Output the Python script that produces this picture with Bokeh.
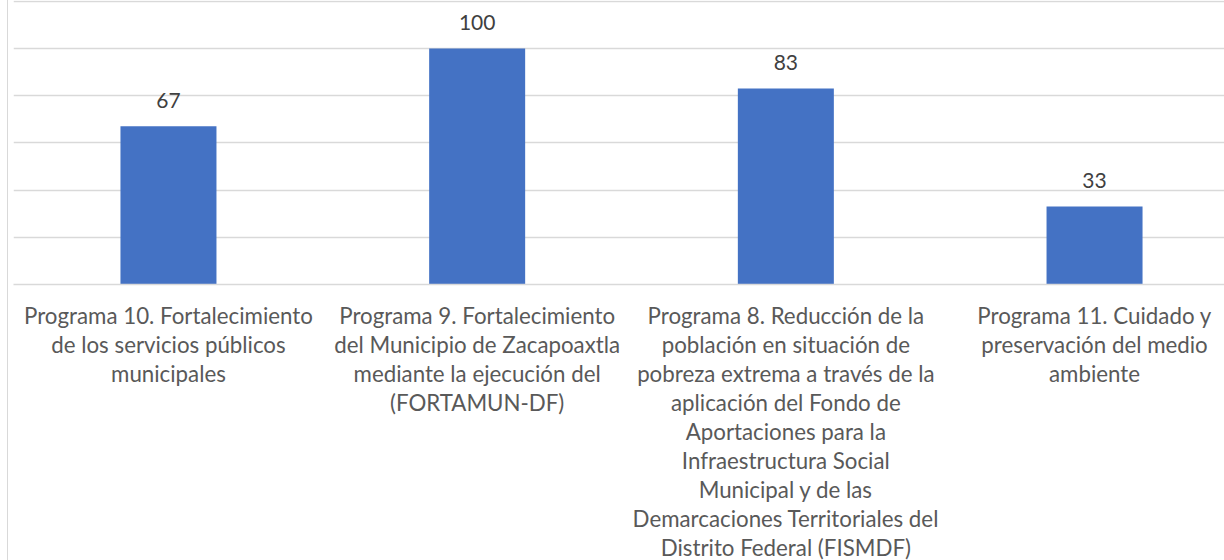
from bokeh.plotting import figure
from bokeh.models import Range1d, FixedTicker, LinearAxis, LabelSet, ColumnDataSource, Grid
from bokeh.core.properties import value
from bokeh.embed import file_html
from bokeh.resources import INLINE

# ---- data ----
categories = [
    "Programa 10. Fortalecimiento\nde los servicios públicos\nmunicipales",
    "Programa 9. Fortalecimiento\ndel Municipio de Zacapoaxtla\nmediante la ejecución del\n(FORTAMUN-DF)",
    "Programa 8. Reducción de la\npoblación en situación de\npobreza extrema a través de la\naplicación del Fondo de\nAportaciones para la\nInfraestructura Social\nMunicipal y de las\nDemarcaciones Territoriales del\nDistrito Federal (FISMDF)",
    "Programa 11. Cuidado y\npreservación del medio\nambiente",
]
values = [67, 100, 83, 33]
value_labels = ["67", "100", "83", "33"]
grid_ticks = [0, 20, 40, 60, 80, 100, 120]

positions = list(range(len(categories)))

FONT = "Lato"

src = ColumnDataSource(dict(x=positions, top=values, lab=value_labels))

p = figure(
    frame_width=1211, frame_height=284,
    x_range=Range1d(-0.502, 3.421), y_range=Range1d(0, 120.3),
    output_backend="svg", toolbar_location=None,
    x_axis_location=None, y_axis_location=None,
    min_border_left=5, min_border_right=0, min_border_top=0, min_border_bottom=10,
    styles={"margin-left": "7px", "border-left": "1px solid #d9d9d9"},
)
# drop default grids
for r in list(p.center):
    if isinstance(r, Grid):
        r.visible = False

p.outline_line_color = None
p.background_fill_color = "white"
p.border_fill_color = "white"

p.vbar(x="x", top="top", width=0.311, bottom=0, source=src,
       fill_color="#4472C4", line_color=None)

xaxis = LinearAxis(ticker=FixedTicker(ticks=positions),
                   major_label_overrides={i: c for i, c in zip(positions, categories)})
xaxis.axis_line_color = "#d9d9d9"
xaxis.axis_line_width = 1.5
xaxis.major_tick_line_color = None
xaxis.minor_tick_line_color = None
xaxis.major_label_text_font = FONT
xaxis.major_label_text_font_size = "22.3px"
xaxis.major_label_text_color = "#595959"
xaxis.major_label_text_line_height = 1.075
xaxis.major_label_standoff = 11
xaxis.major_label_orientation = "horizontal"
p.add_layout(xaxis, "below")

yaxis = LinearAxis(ticker=FixedTicker(ticks=grid_ticks), visible=False)
p.add_layout(yaxis, "left")

g = Grid(dimension=1, ticker=FixedTicker(ticks=grid_ticks),
         grid_line_color="#d9d9d9", grid_line_width=1.5)
p.add_layout(g, "center")

labels = LabelSet(x="x", y="top", text="lab", source=src, y_offset=26,
                  text_align="center", text_baseline="middle",
                  text_font=value(FONT), text_font_size="21px", text_color="#404040")
p.add_layout(labels)

open("out.html", "w").write(file_html(p, INLINE))
